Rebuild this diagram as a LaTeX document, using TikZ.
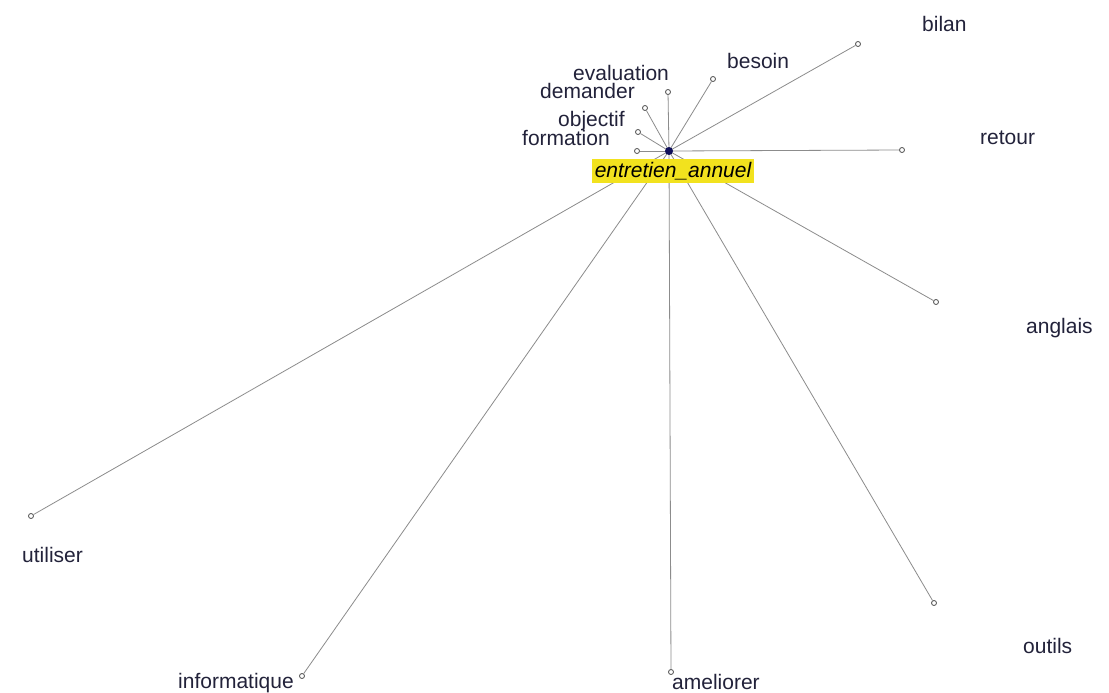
\documentclass[tikz,border=0pt]{standalone}
\usepackage{fontspec}
\setmainfont{Liberation Sans}
\definecolor{txt}{HTML}{22223A}
\definecolor{edge}{HTML}{8C8C8C}
\definecolor{hubc}{HTML}{10105A}
\definecolor{hl}{HTML}{F2E21E}
\begin{document}
\begin{tikzpicture}[x=1pt,y=-1pt,
  leaf/.style={circle,draw=black!70,fill=white,line width=0.8pt,minimum size=5pt,inner sep=0pt},
  hubdot/.style={circle,fill=hubc,minimum size=8pt,inner sep=0pt},
  lbl/.style={text=txt,font=\fontsize{21}{25}\selectfont,inner sep=0pt,anchor=base west},
  link/.style={draw=edge,line width=0.8pt}]
\useasboundingbox (0,0) rectangle (1109,693);
\fill[white] (0,0) rectangle (1109,693);
% leaf dots
\node[leaf] (bilan) at (858,44) {};
\node[leaf] (besoin) at (713,79) {};
\node[leaf] (evaluation) at (668,92) {};
\node[leaf] (demander) at (645,108) {};
\node[leaf] (objectif) at (638,132) {};
\node[leaf] (formation) at (637,151) {};
\node[leaf] (retour) at (902,150) {};
\node[leaf] (anglais) at (936,302) {};
\node[leaf] (outils) at (934,603) {};
\node[leaf] (ameliorer) at (671,672) {};
\node[leaf] (informatique) at (302,676) {};
\node[leaf] (utiliser) at (31,516) {};
\coordinate (c) at (669,151);
% links
\foreach \n in {bilan,besoin,evaluation,demander,objectif,formation,retour,anglais,outils,ameliorer,informatique,utiliser}
  \draw[link] (c) -- (\n);
\node[hubdot] (hub) at (c) {};
% central label
\node[fill=hl,inner xsep=3pt,inner ysep=3pt,text=black,font=\fontsize{21}{25}\selectfont\itshape] (main) at (673,171) {entretien\_annuel};
% labels
\node[lbl] (tbilan) at (922,32) {bilan};
\node[lbl] (tbesoin) at (727,69) {besoin};
\node[lbl] (tevaluation) at (573,81) {evaluation};
\node[lbl] (tdemander) at (540,99) {demander};
\node[lbl] (tobjectif) at (558,126) {objectif};
\node[lbl] (tformation) at (522,145) {formation};
\node[lbl] (tretour) at (980,144) {retour};
\node[lbl] (tanglais) at (1026,333) {anglais};
\node[lbl] (toutils) at (1023,653) {outils};
\node[lbl] (tameliorer) at (672,689) {ameliorer};
\node[lbl] (tinformatique) at (178,688) {informatique};
\node[lbl] (tutiliser) at (22,562) {utiliser};
\end{tikzpicture}
\end{document}
